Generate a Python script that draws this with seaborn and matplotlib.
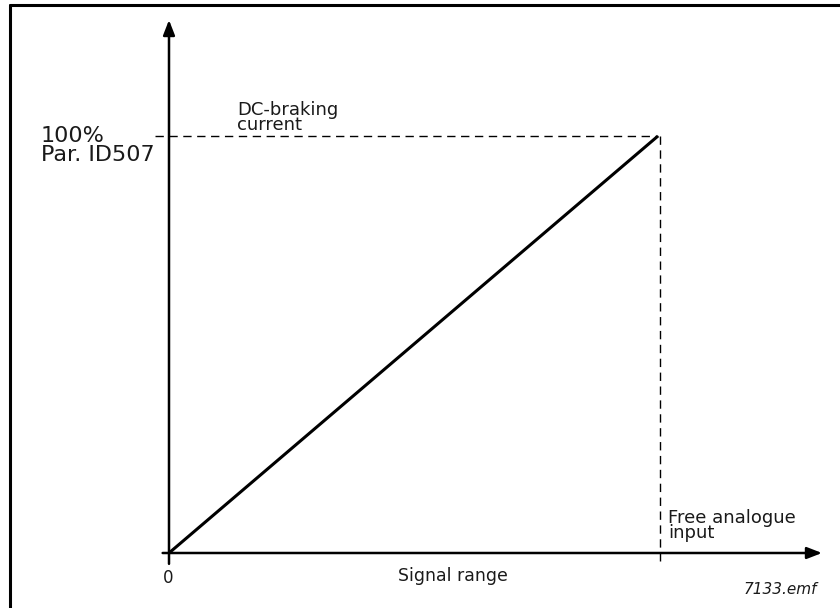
import matplotlib
matplotlib.use("Agg")
import matplotlib.pyplot as plt
import seaborn as sns
import pandas as pd
from matplotlib.lines import Line2D

# data
signal = [0, 100]          # % of signal range
current = [0, 100]         # % of Par. ID507
y_label_lines = ["100%", "Par. ID507"]
curve_label = "DC-braking\ncurrent"
x_end_label = "Free analogue\ninput"
x_axis_label = "Signal range"
origin_label = "0"
file_tag = "7133.emf"

sns.set_style("white")
plt.rcParams['font.family'] = ['DejaVu Sans']
TXT = "#1a1a1a"

W, H = 840, 608
fig = plt.figure(figsize=(W / 100, H / 100), dpi=100)
ax = fig.add_axes([0, 0, 1, 1])
ax.set_axis_off()

# mapping: origin at px (169, 553 from top), 100 -> px (658, 136)
sx = (658 - 169) / 100.0
sy = (553 - 136) / 100.0
ax.set_xlim(-169 / sx, (W - 169) / sx)
ax.set_ylim(-(H - 553) / sy, 553 / sy)

df = pd.DataFrame({"signal": signal, "current": current})
sns.lineplot(data=df, x="signal", y="current", ax=ax, color="black",
             linewidth=2.2, solid_capstyle="butt")

# dashed guides
ax.plot([-2.9, max(signal)], [max(current), max(current)], color="black",
        lw=1.0, dashes=(6, 4))
ax.plot([max(signal) + 0.4, max(signal) + 0.4], [max(current), -2.9],
        color="black", lw=1.0, dashes=(6, 4))

# axes with arrows
arrow = dict(arrowstyle="-|>,head_length=0.9,head_width=0.35", color="black",
             lw=1.8, shrinkA=0, shrinkB=0)
ax.annotate("", xy=((822 - 169) / sx, 0), xytext=(-1.3, 0), arrowprops=arrow)
ax.annotate("", xy=(0, (553 - 20) / sy), xytext=(0, -2.6), arrowprops=arrow)

# texts
ax.text((41 - 169) / sx, (553 - 126) / sy, "\n".join(y_label_lines),
        fontsize=16, ha="left", va="top", linespacing=0.92, color=TXT)
ax.text((237 - 169) / sx, (553 - 101) / sy, curve_label, fontsize=13,
        ha="left", va="top", linespacing=0.82, color=TXT)
ax.text((668 - 169) / sx, (553 - 509) / sy, x_end_label, fontsize=13,
        ha="left", va="top", linespacing=0.82, color=TXT)
ax.text((453 - 169) / sx, (553 - 567) / sy, x_axis_label, fontsize=12.5,
        ha="center", va="top", color=TXT)
ax.text((168 - 169) / sx, (553 - 569) / sy, origin_label, fontsize=12,
        ha="center", va="top", color=TXT)
ax.text((817 - 169) / sx, (553 - 582) / sy, file_tag, fontsize=11,
        ha="right", va="top", style="italic", color=TXT)

# frame (top and left border)
fig.add_artist(Line2D([10 / W, 1], [1 - 5 / H, 1 - 5 / H],
                      transform=fig.transFigure, color="black", lw=2.2))
fig.add_artist(Line2D([10 / W, 10 / W], [0, 1 - 5 / H],
                      transform=fig.transFigure, color="black", lw=2.2))

fig.savefig("out.png", dpi=100, facecolor="white")
